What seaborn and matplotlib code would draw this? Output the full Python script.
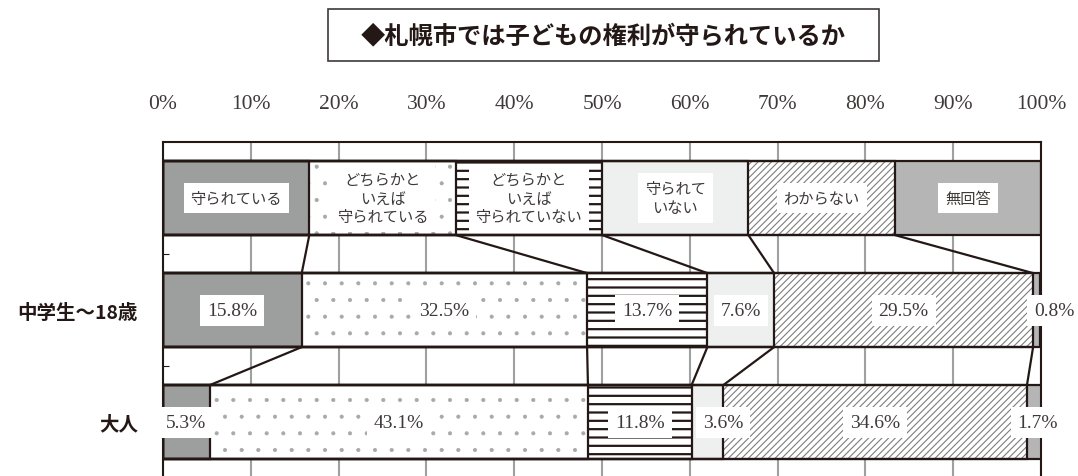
import pandas as pd
import matplotlib.pyplot as plt
from matplotlib.patches import Rectangle
import seaborn as sns


# DATA
categories = ['守られている', 'どちらかといえば守られている', 'どちらかといえば守られていない',
              '守られていない', 'わからない', '無回答']
key_labels = ['守られている', 'どちらかと\nいえば\n守られている', 'どちらかと\nいえば\n守られていない',
              '守られて\nいない', 'わからない', '無回答']
groups = ['中学生〜18歳', '大人']
junior = [15.8, 32.5, 13.7, 7.6, 29.5, 0.8]
adult = [5.3, 43.1, 11.8, 3.6, 34.6, 1.7]
ticks = [0, 10, 20, 30, 40, 50, 60, 70, 80, 90, 100]
title = '◆札幌市では子どもの権利が守られているか'

# styles per category
facecolors = ['#9d9e9e', 'white', 'white', '#eeefef', 'white', '#b5b5b6']
hatches = [None, '.', '--', None, '/////', None]
hatchcolors = ['#9d9e9e', '#a8a9a9', '#231815', '#eeefef', '#7d7d7d', '#b5b5b6']
hatch_lw = [0.5, 0.5, 1.6, 0.5, 0.8, 0.5]
ink = '#231815'
text_col = '#3e3a39'

plt.rcParams['font.family'] = ['Noto Sans CJK JP', 'DejaVu Sans']
plt.rcParams['hatch.linewidth'] = 1.0

# first row is the key (equal parts), then the two groups
rows = ['key'] + groups
shares = pd.DataFrame([[100 / len(categories)] * len(categories), junior, adult],
                      index=rows, columns=categories)
ends = shares.cumsum(axis=1)
starts = ends - shares

fig = plt.figure(figsize=(10.78, 4.77), dpi=100)
ax = fig.add_axes([163 / 1078, 0, 878 / 1078, 334 / 477])

bar_h = 0.66

# fills: draw from the longest cumulative bar down so shorter ones sit on top
for k in reversed(range(len(categories))):
    layer = pd.DataFrame({'row': rows, 'end': ends.iloc[:, k].values})
    sns.barplot(data=layer, x='end', y='row', order=rows, orient='h', width=bar_h,
                errorbar=None, facecolor=facecolors[k], edgecolor=hatchcolors[k],
                hatch=hatches[k], linewidth=0, zorder=2, ax=ax)
    for p in ax.containers[-1]:
        if hasattr(p, 'set_hatch_linewidth'):
            p.set_hatch_linewidth(hatch_lw[k])

# outlines
for k in range(len(categories)):
    layer = pd.DataFrame({'row': rows, 'end': ends.iloc[:, k].values})
    sns.barplot(data=layer, x='end', y='row', order=rows, orient='h', width=bar_h,
                errorbar=None, facecolor='none', edgecolor=ink, linewidth=1.6,
                zorder=3, ax=ax)

# connector lines between rows
for r in range(1, len(rows)):
    for k in range(len(categories) - 1):
        ax.plot([ends.iloc[r - 1, k], ends.iloc[r, k]],
                [r - 1 + bar_h / 2, r - bar_h / 2],
                color=ink, lw=1.6, zorder=3, solid_capstyle='butt')

# key labels
for k, lab in enumerate(key_labels):
    xc = (starts.iloc[0, k] + ends.iloc[0, k]) / 2
    ax.text(xc, 0, lab, ha='center', va='center', fontsize=11, color=text_col,
            linespacing=1.15, zorder=5,
            bbox=dict(facecolor='white', edgecolor='none', pad=5))

# value labels (a few small ones are nudged sideways)
nudge = {(1, 5): 2.0, (2, 3): 1.8, (2, 5): 0.4}
for r in range(1, len(rows)):
    for k in range(len(categories)):
        v = shares.iloc[r, k]
        xc = (starts.iloc[r, k] + ends.iloc[r, k]) / 2 + nudge.get((r, k), 0)
        ax.text(xc, r, f'{v:.1f}%', ha='center', va='center', fontsize=14,
                family='Liberation Serif', color=text_col, zorder=5, clip_on=False,
                bbox=dict(facecolor='white', edgecolor='none', pad=5))

# axes
ax.set_xlim(0, 100)
ax.set_ylim(2.48, -0.5)
ax.set_xticks(ticks)
ax.set_xticklabels([f'{t}%' for t in ticks], family='Liberation Serif', fontsize=15.5,
                   color=text_col)
ax.xaxis.tick_top()
ax.tick_params(axis='x', length=0, pad=21)
ax.set_yticks([1, 2])
ax.set_yticklabels(groups, fontsize=14, fontweight='bold', color=ink)
ax.set_yticks([0.5, 1.5], minor=True)
ax.tick_params(axis='y', which='major', left=True, length=0, pad=18)
ax.tick_params(axis='y', which='minor', left=True, direction='in', length=4,
               width=0.8, color=ink)
ax.set_xlabel('')
ax.set_ylabel('')
ax.grid(axis='x', color='#9fa0a0', lw=1.5)
ax.grid(axis='y', visible=False)
ax.set_axisbelow(True)
ax.set_facecolor('white')
for side in ['top', 'left', 'right']:
    ax.spines[side].set_color(ink)
    ax.spines[side].set_linewidth(1.5)
ax.spines['bottom'].set_visible(False)

# title box
fig.add_artist(Rectangle((328 / 1078, 1 - 62 / 477), 551 / 1078, 52 / 477,
                         transform=fig.transFigure, fill=False, edgecolor=text_col, lw=1.2))
fig.text(603 / 1078, 1 - 36 / 477, title, ha='center', va='center', fontsize=17.5,
         fontweight='bold', color=ink)

fig.savefig('out.png', dpi=100, facecolor='white')
